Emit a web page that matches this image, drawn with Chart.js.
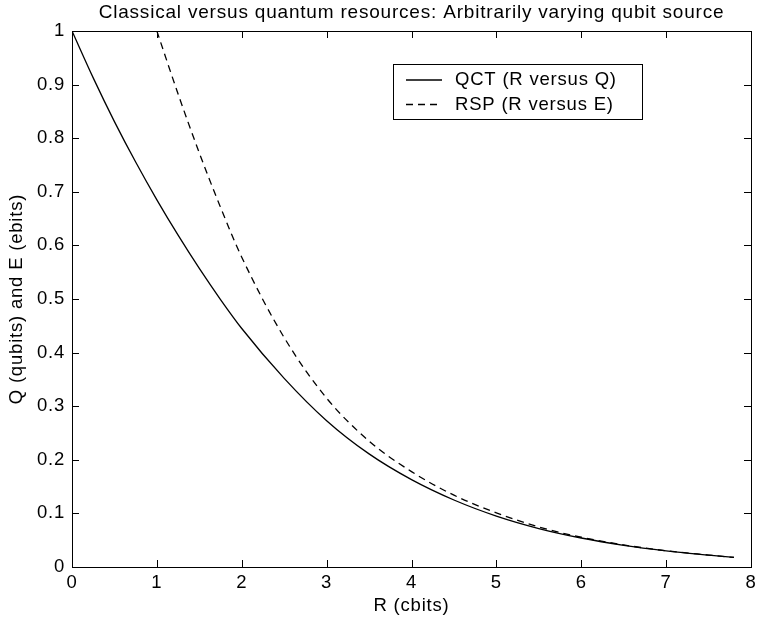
<!DOCTYPE html>
<html>
<head>
<meta charset="utf-8">
<script src="https://cdn.jsdelivr.net/npm/chart.js@4.4.0/dist/chart.umd.min.js"></script>
<style>
  html, body { margin: 0; padding: 0; background: #fff; }
  #wrap { width: 757px; height: 629px; }
</style>
</head>
<body>
<div id="wrap"><canvas id="qubit"></canvas></div>
<script>
// values
var rQct = [0, 0.25, 0.5, 0.75, 1, 1.25, 1.5, 1.75, 2, 2.5, 3, 3.5, 4, 4.5, 5, 5.5, 6, 6.5, 7, 7.5, 7.8];
var qct  = [1, 0.9125, 0.831, 0.7555, 0.685, 0.619, 0.557, 0.499, 0.445, 0.352, 0.273, 0.211, 0.163, 0.125, 0.095, 0.0718, 0.0541, 0.0405, 0.0302, 0.0222, 0.0178];

var rRsp = [1, 1.25, 1.5, 1.75, 2, 2.5, 3, 3.5, 4, 4.5, 5, 5.5, 6, 6.5, 7, 7.5, 7.8];
var rsp  = [1, 0.8825, 0.7725, 0.671, 0.578, 0.428, 0.315, 0.235, 0.178, 0.134, 0.101, 0.0748, 0.0555, 0.0412, 0.0303, 0.0223, 0.0178];

var seriesNames = ['QCT (R versus Q)', 'RSP (R versus E)'];
var xTicks = [0, 1, 2, 3, 4, 5, 6, 7, 8];
var yTicks = [0, 0.1, 0.2, 0.3, 0.4, 0.5, 0.6, 0.7, 0.8, 0.9, 1];

var FONT = "'Liberation Sans', Arial, Helvetica, sans-serif";

function pts(xs, ys) {
	return xs.map(function (x, i) { return { x: x, y: ys[i] }; });
}

// wider letter spacing like the matlab export
var spacingPlugin = {
	id: 'spacing',
	beforeDraw: function (chart) { chart.ctx.letterSpacing = '0.8px'; }
};

// box + inward ticks, matlab style
var boxPlugin = {
	id: 'box',
	afterDraw: function (chart) {
		var ctx = chart.ctx, a = chart.chartArea;
		var sx = chart.scales.x, sy = chart.scales.y;
		var len = 7;
		ctx.save();
		ctx.strokeStyle = '#000';
		ctx.lineWidth = 1;
		ctx.strokeRect(a.left + 0.5, a.top + 0.5, a.right - a.left, a.bottom - a.top);
		ctx.beginPath();
		xTicks.forEach(function (v) {
			var px = Math.round(sx.getPixelForValue(v)) + 0.5;
			ctx.moveTo(px, a.bottom); ctx.lineTo(px, a.bottom - len);
			ctx.moveTo(px, a.top); ctx.lineTo(px, a.top + len);
		});
		yTicks.forEach(function (v) {
			var py = Math.round(sy.getPixelForValue(v)) + 0.5;
			ctx.moveTo(a.left, py); ctx.lineTo(a.left + len, py);
			ctx.moveTo(a.right, py); ctx.lineTo(a.right - len, py);
		});
		ctx.stroke();

		// legend box
		var bx = 393, by = a.top + 33, bw = 249, bh = 55;
		ctx.fillStyle = '#fff';
		ctx.fillRect(bx, by, bw, bh);
		ctx.strokeRect(bx + 0.5, by + 0.5, bw, bh);
		ctx.font = '18.5px ' + FONT;
		ctx.textBaseline = 'middle';
		ctx.fillStyle = '#000';
		chart.data.datasets.forEach(function (ds, i) {
			var ry = by + 16 + i * 24.5;
			ctx.beginPath();
			ctx.lineWidth = ds.borderWidth;
			ctx.setLineDash(ds.borderDash || []);
			ctx.moveTo(bx + 13, ry); ctx.lineTo(bx + 49, ry);
			ctx.stroke();
			ctx.setLineDash([]);
			ctx.fillText(ds.label, bx + 62, ry);
		});
		ctx.restore();
	}
};

var ctx = document.getElementById('qubit').getContext('2d');
var chart = new Chart(ctx, {
	type: 'line',
	data: {
		datasets: [{
			label: seriesNames[0],
			data: pts(rQct, qct),
			borderColor: '#000',
			borderWidth: 1.3,
			pointRadius: 0,
			cubicInterpolationMode: 'monotone',
			fill: false
		}, {
			label: seriesNames[1],
			data: pts(rRsp, rsp),
			borderColor: '#000',
			borderWidth: 1.3,
			borderDash: [7, 5],
			pointRadius: 0,
			cubicInterpolationMode: 'monotone',
			fill: false
		}]
	},
	options: {
		responsive: true,
		maintainAspectRatio: false,
		animation: false,
		layout: { padding: { left: 0, right: 0, top: 0, bottom: 0 } },
		plugins: {
			legend: { display: false },
			tooltip: { enabled: false },
			title: {
				display: true,
				fullSize: false,
				text: 'Classical versus quantum resources: Arbitrarily varying qubit source',
				color: '#000',
				font: { family: FONT, size: 19, weight: 'normal' },
				padding: { top: 1, bottom: 7.2 }
			}
		},
		scales: {
			x: {
				type: 'linear',
				min: 0, max: 8,
				afterBuildTicks: function (s) { s.ticks = xTicks.map(function (v) { return { value: v }; }); },
				afterFit: function (s) { s.height = 62; s.paddingRight = 6; s.paddingLeft = 0; },
				grid: { display: false, drawTicks: false },
				border: { display: false },
				ticks: { color: '#000', padding: 5, font: { family: FONT, size: 18.5 },
					callback: function (v) { return String(v); } },
				title: {
					display: true, text: 'R (cbits)', color: '#000',
					font: { family: FONT, size: 18.5 },
					padding: { top: 0, bottom: 12 }
				}
			},
			y: {
				type: 'linear',
				min: 0, max: 1,
				afterBuildTicks: function (s) { s.ticks = yTicks.map(function (v) { return { value: v }; }); },
				afterFit: function (s) { s.width = 72; },
				grid: { display: false, drawTicks: false },
				border: { display: false },
				ticks: { color: '#000', padding: 7, font: { family: FONT, size: 18.5 },
					callback: function (v) { return String(v); } },
				title: {
					display: true, text: 'Q (qubits) and E (ebits)', color: '#000',
					font: { family: FONT, size: 18.5 },
					padding: { top: 6, bottom: 0 }
				}
			}
		}
	},
	plugins: [spacingPlugin, boxPlugin]
});
</script>
</body>
</html>
